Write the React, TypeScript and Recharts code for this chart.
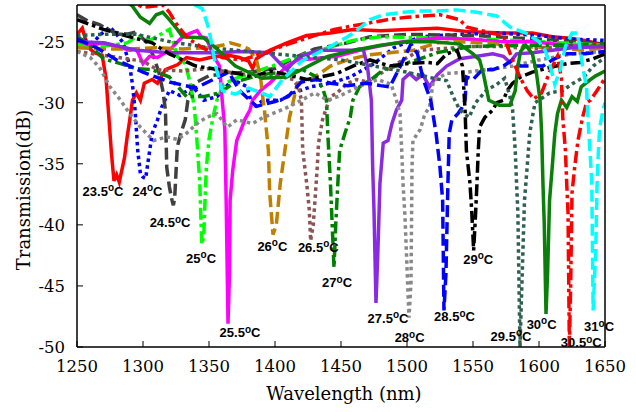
import { LineChart, Line, XAxis, YAxis, ReferenceDot } from "recharts";

type Pt = [number, number];

const X_TICKS = [1250, 1300, 1350, 1400, 1450, 1500, 1550, 1600, 1650];
const Y_TICKS = [-50, -45, -40, -35, -30, -25];

// [wavelength nm, transmission dB]
const T23_5: Pt[] = [
  [1250, -24.4], [1254, -23.9], [1258, -25.4], [1263, -25.9], [1269, -26.1], [1272, -28], [1274, -31],
  [1276, -34], [1278, -36.4], [1280, -35.9], [1282, -36.5], [1284, -35.5], [1286, -34.5], [1288, -32.8],
  [1290, -31.4], [1292, -29.8], [1295, -29.2], [1298, -29.8], [1301, -28.4], [1307, -28.1], [1311, -28.4],
  [1317, -27.3], [1326, -26.9], [1333, -26.3], [1343, -26.5], [1351, -26.3], [1364, -26.1], [1373, -26.3],
  [1380, -26.6], [1383, -27.2], [1386, -26.4], [1396, -25.7], [1409, -25.1], [1424, -24.5], [1442, -24.3],
  [1459, -24.0], [1480, -24.1], [1500, -24.0], [1523, -23.9], [1548, -24.2], [1573, -24.3], [1595, -24.3],
  [1610, -24.6], [1621, -24.7], [1635, -24.9], [1650, -25.3],
];
const T24: Pt[] = [
  [1250, -24.7], [1256, -24.9], [1262, -25.1], [1268, -24.4], [1275, -23.8], [1280, -24.4], [1285, -25.1],
  [1290, -27.0], [1292, -28.5], [1294, -30.6], [1296, -33.9], [1298, -35.8], [1300, -36.1], [1302, -36.2],
  [1304, -34.7], [1307, -32.5], [1311, -31.4], [1314, -30.4], [1320, -29.0], [1328, -29.4], [1338, -28.7],
  [1346, -29.8], [1356, -29.5], [1368, -28.1], [1379, -28.7], [1383, -30.4], [1391, -29.8], [1404, -29.8],
  [1414, -29.2], [1427, -28.7], [1442, -28.4], [1457, -27.9], [1475, -26.8], [1490, -25.5], [1510, -24.6],
  [1540, -24.4], [1570, -24.3], [1600, -24.5], [1625, -24.8], [1650, -24.9],
];
const T24_5: Pt[] = [
  [1250, -22.8], [1258, -23.3], [1267, -23.6], [1277, -24.2], [1288, -24.4], [1295, -24.2], [1303, -25.1],
  [1308, -26.2], [1312, -27.5], [1315, -29], [1317, -30.6], [1318, -35.3], [1320, -36.9], [1322, -38],
  [1323, -38.4], [1324, -37.8], [1326, -33.6], [1329, -32.4], [1332, -31.4], [1334, -29.8], [1339, -28.4],
  [1350, -27.8], [1365, -27.6], [1380, -27.5], [1400, -27.2], [1415, -26.3], [1430, -25.6], [1455, -25.1],
  [1472, -24.6], [1500, -24.4], [1550, -24.5], [1600, -24.8], [1650, -25.2],
];
const T25: Pt[] = [
  [1250, -25.3], [1262, -25.4], [1275, -25.3], [1288, -25.1], [1295, -24.6], [1305, -24.9], [1315, -24.3],
  [1320, -24.0], [1326, -26.2], [1332, -26.8], [1336, -28.5], [1338, -29.8], [1339, -30.5], [1341, -33.3],
  [1343, -36.5], [1344.5, -41.6], [1346, -41], [1347, -38], [1348, -35.3], [1350, -33], [1353, -31.2],
  [1356, -29.8], [1358, -29.3], [1361, -28.5], [1368, -28.1], [1381, -27.6], [1398, -27.0], [1417, -26.2],
  [1434, -25.7], [1459, -24.9], [1480, -24.6], [1520, -24.7], [1560, -24.8], [1600, -25.0], [1650, -25.3],
];
const T25_5: Pt[] = [
  [1250, -24.9], [1260, -25.3], [1270, -25.1], [1280, -25.4], [1290, -25.7], [1295, -25.6], [1300, -26.8],
  [1305, -26.2], [1311, -26.3], [1320, -25.7], [1330, -24.6], [1336, -24.3], [1341, -24.1], [1344, -24.6],
  [1348, -24.7], [1353, -26.1], [1358, -27], [1360, -29.8], [1362, -32.2], [1363, -38], [1364.4, -48.1],
  [1365.5, -44], [1366, -38], [1368, -35.5], [1371, -33.1], [1375, -32], [1377, -31.4], [1381, -30.6],
  [1383, -29.8], [1389, -29], [1396, -28.4], [1409, -27], [1417, -26.5], [1429, -26.4], [1447, -26.2],
  [1464, -25.7], [1477, -25.4], [1497, -25.0], [1523, -24.7], [1548, -24.8], [1573, -25.0], [1595, -25.0],
  [1621, -25.3], [1650, -25.5],
];
const T26: Pt[] = [
  [1250, -25.5], [1270, -25.6], [1290, -25.6], [1310, -25.5], [1330, -25.6], [1350, -25.5], [1360, -25.3],
  [1366, -25.1], [1373, -25.3], [1380, -25.6], [1386, -26.5], [1389, -27.9], [1391, -29.8], [1392, -30.6],
  [1395, -33.9], [1396, -37.4], [1398.5, -40.8], [1401, -40], [1404, -36.6], [1407.5, -33.9], [1411, -31.2],
  [1414, -29.8], [1417, -28.4], [1424, -28.2], [1430, -27.9], [1442, -27], [1455, -26.5], [1470, -26.1],
  [1487, -25.9], [1505, -25.7], [1523, -25.1], [1538, -25], [1561, -25.1], [1583, -25.4], [1610, -25.5],
  [1633, -25.7], [1650, -25.5],
];
const T26_5: Pt[] = [
  [1250, -25.8], [1275, -26.2], [1300, -26.6], [1311, -27.3], [1330, -27.4], [1350, -27.2], [1370, -27.6],
  [1390, -27.8], [1405, -27.9], [1414, -28.1], [1418, -28.8], [1420, -29.8], [1421, -33.9], [1424, -36.6],
  [1426, -38.8], [1427, -41.3], [1429, -40], [1432, -35.3], [1433, -33.3], [1436, -31.4], [1439, -30.4],
  [1442, -29.5], [1447, -29.2], [1455, -28.4], [1462, -28.1], [1470, -28.3], [1480, -27.6], [1497, -26.5],
  [1510, -25.7], [1548, -25.4], [1573, -25.4], [1595, -25.6], [1620, -25.4], [1650, -25.3],
];
const T27: Pt[] = [
  [1250, -24.6], [1258, -25.1], [1270, -26.4], [1283, -26.8], [1295, -27.2], [1307, -27.3], [1320, -27.9],
  [1333, -29.5], [1346, -29.5], [1358, -29.2], [1370, -28.3], [1383, -27.9], [1396, -27.6], [1410, -27.5],
  [1421, -27.3], [1430, -27.8], [1436, -28.8], [1439, -29.8], [1440, -32.5], [1442, -36.6], [1444.7, -43.5],
  [1446, -40], [1448, -35.8], [1449, -33.9], [1453, -32.5], [1457, -31.2], [1459, -29.8], [1464, -28.7],
  [1474, -28], [1482, -27.3], [1492, -27], [1510, -26.4], [1523, -25.9], [1548, -25.4], [1580, -25.3],
  [1620, -25.3], [1650, -25.2],
];
const T27_5: Pt[] = [
  [1250, -25.0], [1270, -25.1], [1295, -25.7], [1320, -25.9], [1346, -25.9], [1358, -25.9], [1373, -25.8],
  [1396, -25.9], [1404, -26.8], [1409, -27.3], [1413, -26.8], [1419, -26.2], [1434, -25.7], [1459, -25.7],
  [1464, -25.6], [1467, -25.7], [1470, -27], [1473, -29.8], [1474, -35.3], [1475, -38.8], [1476.5, -46.4],
  [1478, -42], [1479.5, -36.6], [1482, -33.3], [1485.6, -33.1], [1488.6, -31.7], [1492, -30.6], [1496, -29.8],
  [1497, -28.1], [1502, -27.6], [1507, -28.1], [1512, -27.7], [1517, -28.7], [1523, -27.7], [1530, -27],
  [1540, -26.4], [1553, -26.2], [1565, -26], [1573, -26.2], [1578, -26.7], [1583, -26], [1595, -25.9],
  [1610, -25.7], [1625, -25.5], [1650, -25.4],
];
const T28: Pt[] = [
  [1250, -25.8], [1260, -26.3], [1267, -27.1], [1275, -28.7], [1283, -29.8], [1290, -30.9], [1298, -32],
  [1308, -33.1], [1318, -32.8], [1326, -33], [1333, -32.5], [1341, -31.7], [1348, -31.2], [1356, -30.9],
  [1364, -32], [1371, -31.4], [1383, -31.7], [1391, -31.2], [1398, -30.9], [1409, -30.4], [1420, -29.8],
  [1430, -29.2], [1440, -29.8], [1450, -29.4], [1465, -28.6], [1478, -28.1], [1488, -28.5], [1492, -29.8],
  [1494.7, -30.9], [1496, -33.9], [1497, -36.6], [1498.5, -39.4], [1501.5, -47.6], [1503, -44.8],
  [1503.8, -35.3], [1504.5, -33.1], [1508, -32.5], [1510, -32.2], [1513.6, -30.9], [1517, -30.4],
  [1520, -28.2], [1530, -27.6], [1545, -27.5], [1560, -27.3], [1580, -27], [1600, -26.5], [1625, -26],
  [1650, -25.8],
];
const T28_5: Pt[] = [
  [1250, -24.8], [1265, -25.5], [1280, -26.5], [1300, -27.5], [1320, -28.3], [1340, -28.8], [1355, -28],
  [1365, -27.5], [1373, -29], [1386, -30.3], [1400, -29.9], [1410, -29.5], [1420, -28.3], [1432, -28.1],
  [1442, -28.4], [1455, -28.6], [1470, -28.4], [1480, -28.6], [1487, -28.7], [1495, -27], [1503, -25.2],
  [1508, -26], [1512, -28], [1518, -29.8], [1522, -32.5], [1525, -35.3], [1527, -38], [1528, -47],
  [1529.5, -44], [1531, -36.6], [1532, -32.5], [1534, -31.4], [1538.6, -30.9], [1541.6, -30.4], [1544, -29.8],
  [1545, -27.9], [1550, -28.1], [1557, -27.3], [1565, -27.3], [1573, -27], [1580, -26.5], [1586, -27],
  [1595, -27], [1603, -27], [1610, -26.5], [1620, -26], [1635, -26], [1650, -25.8],
];
const T29: Pt[] = [
  [1250, -23.2], [1270, -24.0], [1290, -24.6], [1307, -25.1], [1320, -26], [1340, -27], [1358, -27.3],
  [1371, -27.6], [1383, -27.9], [1396, -27.4], [1409, -27.7], [1424, -28.1], [1434, -27.9], [1447, -27.6],
  [1459, -27], [1472, -26.5], [1487, -27], [1500, -26.8], [1515, -26.7], [1523, -26.8], [1530, -26],
  [1538, -25.7], [1542, -27], [1544, -30.6], [1545, -33.9], [1547.7, -36.6], [1549, -38.8], [1550.5, -42.1],
  [1552, -39], [1553, -36.6], [1554, -33.9], [1555, -32], [1559, -31.2], [1565, -30.6], [1568, -30],
  [1573, -29.8], [1576, -29], [1580, -28.4], [1586, -27.9], [1595, -27.5], [1605, -27.2], [1613, -27],
  [1621, -26.8], [1631, -26.7], [1641, -26.4], [1650, -26],
];
const T29_5: Pt[] = [
  [1250, -24.5], [1270, -24.4], [1295, -24.4], [1320, -25], [1350, -25.5], [1400, -26], [1450, -26.5],
  [1500, -27.5], [1520, -28], [1530, -28.2], [1535, -29.5], [1540, -30.6], [1547, -31.2], [1552, -30],
  [1560, -29], [1568, -28.5], [1574, -28], [1578, -29.5], [1580, -30.6], [1582, -33.9], [1583, -36.6],
  [1584, -39], [1585.6, -50], [1587, -45], [1589, -38], [1591, -35.3], [1593, -32.5], [1595, -31.2],
  [1597, -30], [1608, -29.2], [1618, -29], [1626, -28.4], [1634, -27.9], [1641, -27], [1650, -26.3],
];
const T30: Pt[] = [
  [1250, -21.5], [1285, -21.5], [1292, -22.1], [1298, -23], [1305, -23.5], [1310, -22.8], [1315, -22.6],
  [1320, -23.2], [1326, -24], [1330, -24.6], [1346, -24.7], [1355, -25.5], [1370, -27], [1390, -28],
  [1409, -27.9], [1420, -27.3], [1429, -26.8], [1440, -26.2], [1460, -25.7], [1480, -25.3], [1500, -25],
  [1520, -25], [1540, -25.2], [1550, -26], [1555, -26.5], [1558, -27.7], [1562, -29.8], [1570, -30.2],
  [1578, -30.2], [1582, -29], [1584, -27], [1586, -25.8], [1590, -25.3], [1595, -26], [1598, -27.5],
  [1600.8, -29.8], [1602, -32.5], [1603, -36.6], [1604, -40], [1605.3, -47.3], [1606.5, -44], [1608, -38],
  [1610, -35.3], [1612, -32.5], [1614, -30.9], [1617, -29.8], [1621, -30.4], [1625, -29.5], [1629, -29.9],
  [1632, -28.7], [1639, -28.1], [1643, -27.8], [1650, -27.4],
];
const T30_5: Pt[] = [
  [1250, -21], [1295, -21.9], [1300, -22.2], [1315, -22], [1320, -22.6], [1325, -23.5], [1330, -24.2],
  [1335, -24.8], [1345, -25.5], [1360, -26.3], [1375, -26.5], [1390, -26], [1410, -25.2], [1430, -24.5],
  [1445, -24], [1459, -23.7], [1470, -23.5], [1485, -23.2], [1500, -23], [1525, -22.8], [1540, -23.2],
  [1545, -23.8], [1560, -24.2], [1573, -24.5], [1580, -26.5], [1586, -28], [1591, -29], [1596, -29.7],
  [1602, -29.2], [1608, -27.5], [1614, -26.2], [1617, -28], [1618, -31.2], [1620, -33.9], [1621, -36.6],
  [1622, -39], [1623, -50], [1624, -45], [1625, -37.4], [1627, -35.3], [1629.5, -33.1], [1633, -31.2],
  [1636, -30], [1639, -29.8], [1644, -29], [1650, -28],
];
const T31: Pt[] = [
  [1250, -21], [1300, -21.2], [1330, -21.5], [1345, -22.3], [1350, -24], [1355, -27], [1360, -29],
  [1370, -29.3], [1380, -28.8], [1390, -29.2], [1396, -29.5], [1405, -28.2], [1420, -26.6], [1440, -25.5],
  [1455, -24.6], [1463, -24], [1472, -23.2], [1482, -22.8], [1497, -22.6], [1510, -22.5], [1523, -22.5],
  [1538, -22.4], [1553, -22.6], [1568, -22.9], [1578, -23.8], [1590, -24.3], [1600, -25], [1605, -25.8],
  [1608, -26.8], [1612, -28.5], [1616, -27.3], [1620, -25.4], [1625, -24.3], [1629, -24.3], [1631, -25.5],
  [1633, -27], [1636, -28.7], [1637, -31.2], [1638.6, -33.9], [1640, -36.6], [1641, -47], [1643, -42],
  [1644, -36.6], [1645, -33.9], [1646, -32], [1648.5, -30.6], [1650, -30],
];

// label text and its anchor (centre, baseline) in data units
const LABEL_TEMPS = ["23.5", "24", "24.5", "25", "25.5", "26", "26.5", "27", "27.5", "28", "28.5", "29", "29.5", "30", "30.5", "31"];
const LABEL_WL = [1269.7, 1303.4, 1320.5, 1344, 1373.5, 1398, 1432.8, 1447, 1485.6, 1502, 1536, 1554, 1578.8, 1602, 1632, 1645.5];
const LABEL_DB = [-37.6, -37.6, -40.2, -43.1, -49.2, -42.1, -42.2, -45.1, -48.0, -49.6, -47.9, -43.2, -49.5, -48.5, -50.0, -48.7];

const DASHED = "12 5";
const DOTTED = "3.5 3.5";
const DASHDOT = "12 4 3.5 4";

const SERIES = [
  { key: "23.5", data: T23_5, color: "#ff0000", dash: undefined },
  { key: "24", data: T24, color: "#0000ff", dash: DOTTED },
  { key: "24.5", data: T24_5, color: "#404040", dash: DASHED },
  { key: "25", data: T25, color: "#00ff00", dash: DASHDOT },
  { key: "25.5", data: T25_5, color: "#ff00ff", dash: undefined },
  { key: "26", data: T26, color: "#bf8000", dash: DASHED },
  { key: "26.5", data: T26_5, color: "#8c5555", dash: DOTTED },
  { key: "27", data: T27, color: "#008000", dash: DASHDOT },
  { key: "27.5", data: T27_5, color: "#8a2be2", dash: undefined },
  { key: "28", data: T28, color: "#888888", dash: DOTTED },
  { key: "28.5", data: T28_5, color: "#0000ff", dash: DASHED },
  { key: "29", data: T29, color: "#000000", dash: DASHDOT },
  { key: "29.5", data: T29_5, color: "#2f5f4f", dash: DOTTED },
  { key: "30", data: T30, color: "#0a800a", dash: undefined },
  { key: "30.5", data: T30_5, color: "#ff0000", dash: DASHDOT },
  { key: "31", data: T31, color: "#00ffff", dash: DASHED },
];

const toPts = (arr: Pt[]) => arr.map(([x, y]) => ({ x, y }));

const SERIF = "DejaVu Serif";
const SANS = "Liberation Sans, Arial, sans-serif";

const TempLabel = (props: any) => {
  const { cx, cy, t } = props;
  return (
    <text x={cx} y={cy} textAnchor="middle" style={{ fontFamily: SANS, fontWeight: "bold", fontSize: 13 }} fill="#000">
      {t}
      <tspan dy={-4.5} style={{ fontSize: 10 }}>o</tspan>
      <tspan dy={4.5}>C</tspan>
    </text>
  );
};

export default function App() {
  const tickStyle = { fontFamily: SERIF, fontSize: 16.5, fill: "#000" };
  return (
    <div style={{ position: "absolute", left: 0, top: 0, background: "#fff" }}>
      <LineChart width={636} height={412} margin={{ top: 4, right: 30, left: 0, bottom: 0 }}>
        <XAxis
          dataKey="x"
          type="number"
          domain={[1250, 1650]}
          ticks={X_TICKS}
          interval={0}
          height={65}
          tick={tickStyle}
          tickSize={-6}
          tickMargin={19}
          axisLine={{ stroke: "#000", strokeWidth: 1.5 }}
          tickLine={{ stroke: "#000" }}
          allowDataOverflow
        />
        <XAxis
          xAxisId="top"
          orientation="top"
          dataKey="x"
          type="number"
          domain={[1250, 1650]}
          ticks={X_TICKS}
          interval={0}
          height={1}
          tick={false}
          tickSize={-6}
          axisLine={{ stroke: "#000", strokeWidth: 1.5 }}
          tickLine={{ stroke: "#000" }}
          allowDataOverflow
        />
        <YAxis
          type="number"
          domain={[-50, -22]}
          ticks={Y_TICKS}
          interval={0}
          width={77}
          tick={tickStyle}
          tickSize={-6}
          tickMargin={18}
          axisLine={{ stroke: "#000", strokeWidth: 1.5 }}
          tickLine={{ stroke: "#000" }}
          allowDataOverflow
        />
        <YAxis
          yAxisId="right"
          orientation="right"
          type="number"
          domain={[-50, -22]}
          ticks={Y_TICKS}
          interval={0}
          width={1}
          tick={false}
          tickSize={-6}
          axisLine={{ stroke: "#000", strokeWidth: 1.5 }}
          tickLine={{ stroke: "#000" }}
          allowDataOverflow
        />
        {SERIES.map((s) => (
          <Line
            key={s.key}
            data={toPts(s.data)}
            dataKey="y"
            type="linear"
            stroke={s.color}
            strokeWidth={3.5}
            strokeDasharray={s.dash}
            dot={false}
            activeDot={false}
            isAnimationActive={false}
          />
        ))}
        {LABEL_TEMPS.map((t, i) => (
          <ReferenceDot
            key={t}
            x={LABEL_WL[i]}
            y={LABEL_DB[i]}
            r={1}
            ifOverflow="visible"
            shape={(p: any) => <TempLabel {...p} t={t} />}
          />
        ))}
        <text x={344} y={400} textAnchor="middle" fontFamily={SERIF} fontSize={18} fill="#000">
          Wavelength (nm)
        </text>
        <text
          x={30}
          y={190}
          textAnchor="middle"
          fontFamily={SERIF}
          fontSize={18}
          fill="#000"
          transform="rotate(-90 30 190)"
        >
          Transmission(dB)
        </text>
      </LineChart>
    </div>
  );
}
